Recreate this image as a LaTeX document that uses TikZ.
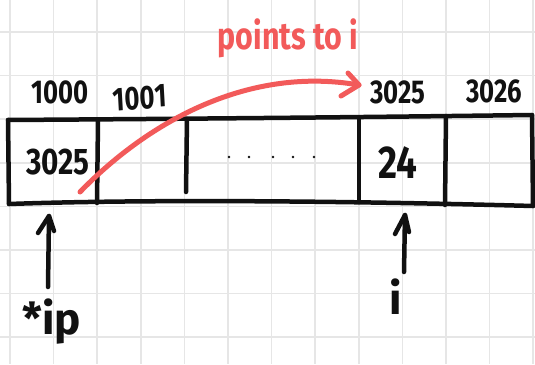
\documentclass[tikz,border=0pt]{standalone}
\usepackage{fontspec}
\setmainfont{Fira Sans}
\definecolor{gridgray}{HTML}{E6E6E6}
\definecolor{pen}{HTML}{111111}
\definecolor{redpen}{HTML}{F25A5A}
\begin{document}
\begin{tikzpicture}[x=1pt,y=-1pt,
  gridline/.style={draw=gridgray, line width=1.6pt},
  ink/.style={draw=pen, line width=4.5pt, line cap=round, line join=round},
  redink/.style={draw=redpen, line width=5pt, line cap=round, line join=round},
  addrlbl/.style={inner sep=0pt, text=pen, font=\bfseries\fontsize{33}{33}\selectfont, xscale=0.78},
  vallbl/.style={inner sep=0pt, text=pen, font=\bfseries\fontsize{37}{37}\selectfont, xscale=0.8},
  ptrlbl/.style={inner sep=0pt, text=pen, font=\bfseries\fontsize{44}{44}\selectfont},
  notelbl/.style={inner sep=0pt, text=redpen, font=\bfseries\fontsize{38}{38}\selectfont, xscale=0.8}]
\useasboundingbox (0,0) rectangle (535,364);
\fill[white] (0,0) rectangle (535,364);
% grid
\foreach \k in {0,...,12} \draw[gridline] ({10+43.6*\k},0) -- ({10+43.6*\k},364);
\foreach \k in {0,...,7} \draw[gridline] (0,{32+43.6*\k}) -- (535,{32+43.6*\k});
% array outline
\coordinate (tl) at (8,120);
\coordinate (tr) at (532,115);
\coordinate (bl) at (9,204);
\coordinate (br) at (533,206);
\draw[ink] (tl) .. controls (150,119) and (300,118) .. (tr);
\draw[ink] (bl) .. controls (150,199) and (350,201) .. (br);
\draw[ink] (tl) -- (bl);
\draw[ink] (tr) -- (br);
\draw[ink] (98,121) -- (97,203);
\draw[ink] (187,119) -- (186,192);
\draw[ink] (359,118) -- (359,202);
\draw[ink] (446,116) -- (445,205);
% addresses
\node[addrlbl] (a1000) at (60,92) {1000};
\node[addrlbl, rotate=4] (a1001) at (140,98) {1001};
\node[addrlbl] (a3025) at (398,92) {3025};
\node[addrlbl] (a3026) at (494,91) {3026};
% cell contents
\node[vallbl] (v3025) at (58,162) {3025};
\node[vallbl, font=\bfseries\fontsize{46}{46}\selectfont] (v24) at (398,163) {24};
\foreach \x in {229,249,273,293,314} \fill[pen] (\x,157) circle (1.4pt);
% red pointer arrow
\coordinate (rs) at (80,192);
\coordinate (re) at (359,85);
\draw[redink] (rs) .. controls (150,120) and (250,66) .. (re);
\draw[redink] (348,73) -- (re) -- (341,96);
\node[notelbl] (pt) at (288,38) {points to i};
% pointer arrows
\node[ptrlbl] (ip) at (52,322) {*ip};
\node[ptrlbl] (iv) at (396,297) {i};
\coordinate (ipt) at (49,216);
\coordinate (ipb) at (48,287);
\draw[ink] (ipb) -- (ipt);
\draw[ink] (38,233) -- (ipt) -- (54,231);
\coordinate (it) at (405,215);
\coordinate (ib) at (404,272);
\draw[ink] (ib) -- (it);
\draw[ink] (395,234) -- (it) -- (409,232);
\end{tikzpicture}
\end{document}
